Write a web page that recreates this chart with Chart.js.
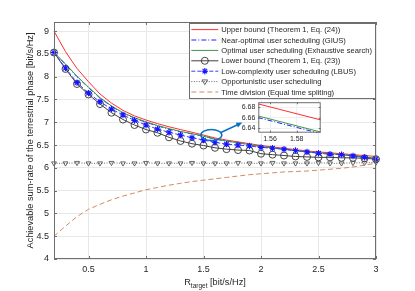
<!DOCTYPE html>
<html>
<head>
<meta charset="utf-8">
<script src="https://cdn.jsdelivr.net/npm/chart.js@4.4.0/dist/chart.umd.min.js"></script>
<style>
  html, body { margin: 0; padding: 0; background: #fff; }
  #wrap { position: relative; width: 415px; height: 291px; }
  #main { position: absolute; left: 0; top: 0; }
  #inset { position: absolute; left: 225px; top: 95px; }
</style>
</head>
<body>
<div id="wrap">
  <canvas id="main" width="415" height="291"></canvas>
  <canvas id="inset" width="100" height="50"></canvas>
</div>
<script>
// values
const rTarget = [0.2, 0.3, 0.4, 0.5, 0.6, 0.7, 0.8, 0.9, 1.0, 1.1, 1.2, 1.3, 1.4, 1.5, 1.6,
                 1.7, 1.8, 1.9, 2.0, 2.1, 2.2, 2.3, 2.4, 2.5, 2.6, 2.7, 2.8, 2.9, 3.0];

const upperBound = [9.00, 8.55, 8.18, 7.89, 7.62, 7.42, 7.26, 7.14, 7.05, 6.97, 6.90, 6.84, 6.78, 6.72, 6.655,
                    6.61, 6.57, 6.53, 6.49, 6.46, 6.43, 6.40, 6.37, 6.35, 6.33, 6.31, 6.29, 6.27, 6.25];
const giusRate = [8.53, 8.27, 8.00, 7.76, 7.53, 7.35, 7.20, 7.09, 7.00, 6.92, 6.85, 6.79, 6.745, 6.694, 6.629,
                  6.587, 6.547, 6.507, 6.467, 6.437, 6.407, 6.377, 6.347, 6.327, 6.307, 6.287, 6.267, 6.237, 6.207];
const optimalRate = [8.53, 8.28, 8.01, 7.77, 7.54, 7.36, 7.21, 7.10, 7.01, 6.93, 6.86, 6.80, 6.75, 6.697, 6.632,
                     6.59, 6.55, 6.51, 6.47, 6.44, 6.41, 6.38, 6.35, 6.33, 6.31, 6.29, 6.27, 6.24, 6.21];
const lowerBound = [8.53, 8.17, 7.84, 7.61, 7.40, 7.21, 7.06, 6.94, 6.84, 6.77, 6.67, 6.59, 6.53, 6.49, 6.44,
                    6.41, 6.39, 6.38, 6.31, 6.29, 6.27, 6.25, 6.24, 6.23, 6.23, 6.22, 6.22, 6.21, 6.19];
const lbusRate = [8.53, 8.19, 7.87, 7.64, 7.45, 7.29, 7.16, 7.04, 6.94, 6.85, 6.78, 6.72, 6.66, 6.61, 6.56,
                  6.52, 6.50, 6.48, 6.45, 6.43, 6.41, 6.38, 6.35, 6.32, 6.30, 6.29, 6.26, 6.23, 6.19];
const opportunisticRate = [6.10, 6.10, 6.11, 6.10, 6.10, 6.11, 6.10, 6.10, 6.11, 6.10, 6.10, 6.10, 6.11, 6.10, 6.10,
                           6.10, 6.11, 6.10, 6.10, 6.11, 6.10, 6.10, 6.10, 6.11, 6.10, 6.10, 6.11, 6.11, 6.12];
const timeDivisionRate = [4.50, 4.72, 4.93, 5.09, 5.20, 5.30, 5.38, 5.45, 5.52, 5.57, 5.62, 5.66, 5.70, 5.73, 5.76,
                          5.79, 5.82, 5.85, 5.87, 5.89, 5.91, 5.92, 5.93, 5.95, 5.97, 5.99, 6.02, 6.06, 6.10];

const legendLabels = [
  'Upper bound (Theorem 1, Eq. (24))',
  'Near-optimal user scheduling (GIUS)',
  'Optimal user scheduling (Exhaustive search)',
  'Lower bound (Theorem 1, Eq. (23))',
  'Low-complexity user scheduling (LBUS)',
  'Opportunistic user scheduling',
  'Time division (Equal time spliting)'
];

const xTicks = [0.5, 1, 1.5, 2, 2.5, 3];
const yTicks = [4, 4.5, 5, 5.5, 6, 6.5, 7, 7.5, 8, 8.5, 9];
const insetXTicks = [1.56, 1.58];
const insetYTicks = [6.64, 6.66, 6.68];

const FONT = '"Liberation Sans", Arial, Helvetica, sans-serif';
const TXT = '#262626';

function pts(ys) {
  return rTarget.map((x, i) => ({ x: x, y: ys[i] }));
}

function makeDatasets() {
  return [
    { data: pts(upperBound), borderColor: '#ff3030', borderWidth: 1, pointRadius: 0 },
    { data: pts(giusRate), borderColor: '#2020ff', borderWidth: 1, borderDash: [5, 2, 1, 2], pointRadius: 0 },
    { data: pts(optimalRate), borderColor: '#3a9a46', borderWidth: 1, pointRadius: 0 },
    { data: pts(lowerBound), borderColor: '#2a2a2a', borderWidth: 0.9, pointStyle: 'circle', pointRadius: 3.5,
      pointBorderColor: '#333', pointBackgroundColor: 'rgba(0,0,0,0)', pointBorderWidth: 0.9 },
    { data: pts(lbusRate), borderColor: '#3a3aff', borderWidth: 1, borderDash: [4, 2], pointStyle: 'star', pointRadius: 3.2,
      pointBorderColor: '#1515ff', pointBorderWidth: 1.1 },
    { data: pts(opportunisticRate), borderColor: '#666', borderWidth: 1, borderDash: [1, 1.5], pointStyle: 'triangle',
      pointRotation: 180, pointRadius: 2.8, pointBorderColor: '#444', pointBackgroundColor: 'rgba(0,0,0,0)', pointBorderWidth: 0.8 },
    { data: pts(timeDivisionRate), borderColor: '#d08a64', borderWidth: 1, borderDash: [5, 3], pointRadius: 0 }
  ].map((d, i) => Object.assign(d, { order: 7 - i, clip: false, fill: false, tension: 0 }));
}

// box + inward tick marks, matlab style
const framePlugin = {
  id: 'frame',
  beforeDraw(chart, args, opts) {
    if (!opts.fill) return;
    const a = chart.chartArea;
    chart.ctx.save();
    chart.ctx.fillStyle = '#fff';
    chart.ctx.fillRect(a.left, a.top, a.width, a.height);
    chart.ctx.restore();
  },
  afterDatasetsDraw(chart, args, opts) {
    const { ctx, chartArea: a, scales } = chart;
    const len = opts.tickLen || 3;
    ctx.save();
    ctx.strokeStyle = '#6e6e6e';
    ctx.lineWidth = 1;
    ctx.strokeRect(a.left + 0.5, a.top + 0.5, a.width - 1, a.height - 1);
    ctx.beginPath();
    scales.x.ticks.forEach(t => {
      const px = Math.round(scales.x.getPixelForValue(t.value)) + 0.5;
      ctx.moveTo(px, a.bottom); ctx.lineTo(px, a.bottom - len);
      ctx.moveTo(px, a.top); ctx.lineTo(px, a.top + len);
    });
    scales.y.ticks.forEach(t => {
      const py = Math.round(scales.y.getPixelForValue(t.value)) + 0.5;
      ctx.moveTo(a.left, py); ctx.lineTo(a.left + len, py);
      ctx.moveTo(a.right, py); ctx.lineTo(a.right - len, py);
    });
    ctx.stroke();
    ctx.restore();
  }
};

function drawMarker(ctx, ds, x, y) {
  const r = ds.pointRadius;
  if (!r) return;
  ctx.save();
  ctx.setLineDash([]);
  ctx.strokeStyle = ds.pointBorderColor;
  ctx.lineWidth = ds.pointBorderWidth;
  ctx.beginPath();
  if (ds.pointStyle === 'circle') {
    ctx.arc(x, y, r, 0, Math.PI * 2);
  } else if (ds.pointStyle === 'star') {
    for (let k = 0; k < 4; k++) {
      const ang = k * Math.PI / 4;
      ctx.moveTo(x - r * Math.cos(ang), y - r * Math.sin(ang));
      ctx.lineTo(x + r * Math.cos(ang), y + r * Math.sin(ang));
    }
  } else if (ds.pointStyle === 'triangle') {
    ctx.moveTo(x - r, y - r * 0.6);
    ctx.lineTo(x + r, y - r * 0.6);
    ctx.lineTo(x, y + r * 1.1);
    ctx.closePath();
  }
  ctx.stroke();
  ctx.restore();
}

const legendBoxPlugin = {
  id: 'legendBox',
  afterDraw(chart) {
    const { ctx, chartArea: a } = chart;
    const dsets = chart.data.datasets;
    ctx.save();
    ctx.font = '7.6px ' + FONT;
    const maxW = Math.max(...legendLabels.map(t => ctx.measureText(t).width));
    const rowH = 10.4, sample = 27;
    const w = 2 + sample + 3 + maxW + 3;
    const h = rowH * legendLabels.length + 2.5;
    const right = a.right - 1, top = a.top + 1;
    const left = right - w;
    ctx.fillStyle = '#fff';
    ctx.fillRect(left, top, w, h);
    ctx.strokeStyle = '#6e6e6e';
    ctx.lineWidth = 1;
    ctx.strokeRect(Math.round(left) + 0.5, Math.round(top) + 0.5, Math.round(w), Math.round(h));
    legendLabels.forEach((label, i) => {
      const ds = dsets[i];
      const y = top + 6.6 + i * rowH;
      const x0 = left + 2, x1 = left + 2 + sample;
      ctx.save();
      ctx.strokeStyle = ds.borderColor;
      ctx.lineWidth = ds.borderWidth;
      ctx.setLineDash(ds.borderDash || []);
      ctx.beginPath();
      ctx.moveTo(x0, y); ctx.lineTo(x1, y);
      ctx.stroke();
      ctx.restore();
      drawMarker(ctx, ds, (x0 + x1) / 2, y);
      ctx.fillStyle = TXT;
      ctx.textBaseline = 'middle';
      ctx.textAlign = 'left';
      ctx.fillText(label, x1 + 3, y + 0.5);
    });
    ctx.restore();
  }
};

// x axis title with subscript
const xTitlePlugin = {
  id: 'xTitle',
  afterDraw(chart) {
    const { ctx, chartArea: a } = chart;
    const big = '9.2px ' + FONT, small = '6.5px ' + FONT;
    ctx.save();
    ctx.fillStyle = TXT;
    ctx.textBaseline = 'alphabetic';
    ctx.textAlign = 'left';
    ctx.font = big; const w1 = ctx.measureText('R').width;
    ctx.font = small; const w2 = ctx.measureText('target').width;
    ctx.font = big; const w3 = ctx.measureText(' [bit/s/Hz]').width;
    let x = (a.left + a.right) / 2 - (w1 + w2 + w3) / 2;
    const base = chart.height - 6;
    ctx.font = big; ctx.fillText('R', x, base); x += w1;
    ctx.font = small; ctx.fillText('target', x, base + 2.5); x += w2;
    ctx.font = big; ctx.fillText(' [bit/s/Hz]', x, base);
    ctx.restore();
  }
};

// ellipse and arrow pointing to the zoomed inset
const calloutPlugin = {
  id: 'callout',
  afterDatasetsDraw(chart, args, o) {
    const { ctx, scales } = chart;
    const cx = scales.x.getPixelForValue(o.x);
    const cy = scales.y.getPixelForValue(o.y);
    ctx.save();
    ctx.strokeStyle = '#0a72bd';
    ctx.fillStyle = '#0a72bd';
    ctx.lineWidth = 1.5;
    ctx.beginPath();
    ctx.ellipse(cx, cy, o.rx, o.ry, 0, 0, Math.PI * 2);
    ctx.stroke();
    const sx = cx + 9, sy = cy - 2.3, ex = cx + 31, ey = cy - 12.5;
    const ang = Math.atan2(ey - sy, ex - sx);
    ctx.beginPath();
    ctx.moveTo(sx, sy);
    ctx.lineTo(ex - 4 * Math.cos(ang), ey - 4 * Math.sin(ang));
    ctx.stroke();
    ctx.beginPath();
    ctx.moveTo(ex, ey);
    ctx.lineTo(ex - 6 * Math.cos(ang) + 2.6 * Math.sin(ang), ey - 6 * Math.sin(ang) - 2.6 * Math.cos(ang));
    ctx.lineTo(ex - 6 * Math.cos(ang) - 2.6 * Math.sin(ang), ey - 6 * Math.sin(ang) + 2.6 * Math.cos(ang));
    ctx.closePath();
    ctx.fill();
    ctx.restore();
  }
};

const mainChart = new Chart(document.getElementById('main'), {
  type: 'line',
  data: { datasets: makeDatasets() },
  plugins: [framePlugin, calloutPlugin, legendBoxPlugin, xTitlePlugin],
  options: {
    responsive: false,
    animation: false,
    events: [],
    layout: { padding: { left: 0, top: 22, right: 39, bottom: 0 } },
    plugins: {
      legend: { display: false },
      tooltip: { enabled: false },
      frame: { tickLen: 3 },
      callout: { x: 1.568, y: 6.72, rx: 10.5, ry: 5.5 }
    },
    scales: {
      x: {
        type: 'linear', min: 0.2, max: 3,
        afterBuildTicks: s => { s.ticks = xTicks.map(v => ({ value: v })); },
        afterFit: s => { s.height = 32; },
        grid: { color: '#e8e8e8', drawTicks: false },
        border: { display: false },
        ticks: { padding: 5, color: TXT, font: { family: FONT, size: 9 }, maxRotation: 0,
                 callback: v => String(v) }
      },
      y: {
        type: 'linear', min: 4, max: 9.2,
        afterBuildTicks: s => { s.ticks = yTicks.map(v => ({ value: v })); },
        afterFit: s => { s.width = 54; },
        grid: { color: '#e8e8e8', drawTicks: false },
        border: { display: false },
        ticks: { padding: 5, color: TXT, font: { family: FONT, size: 9 }, callback: v => String(v) },
        title: { display: true, text: 'Achievable sum-rate of the terrestrial phase [bit/s/Hz]',
                 color: TXT, font: { family: FONT, size: 9.2 }, padding: { top: 25, bottom: 0 } }
      }
    }
  }
});

// zoomed inset near R_target = 1.57
const insetSets = makeDatasets().slice(0, 3).map(d => Object.assign(d, { clip: true }));
const insetChart = new Chart(document.getElementById('inset'), {
  type: 'line',
  data: { datasets: insetSets },
  plugins: [framePlugin],
  options: {
    responsive: false,
    animation: false,
    events: [],
    layout: { padding: { left: 0, top: 4, right: 4.3, bottom: 0 } },
    plugins: { legend: { display: false }, tooltip: { enabled: false }, frame: { tickLen: 2, fill: true } },
    scales: {
      x: {
        type: 'linear', min: 1.5512, max: 1.598,
        afterBuildTicks: s => { s.ticks = insetXTicks.map(v => ({ value: v })); },
        afterFit: s => { s.height = 12.3; },
        grid: { color: '#f0f0f0', drawTicks: false },
        border: { display: false },
        ticks: { padding: 2, color: TXT, font: { family: FONT, size: 7 }, maxRotation: 0,
                 callback: v => v.toFixed(2) }
      },
      y: {
        type: 'linear', min: 6.632, max: 6.690,
        afterBuildTicks: s => { s.ticks = insetYTicks.map(v => ({ value: v })); },
        afterFit: s => { s.width = 33.3; },
        grid: { color: '#f0f0f0', drawTicks: false },
        border: { display: false },
        ticks: { padding: 3, color: TXT, font: { family: FONT, size: 7 }, callback: v => v.toFixed(2) }
      }
    }
  }
});
</script>
</body>
</html>
